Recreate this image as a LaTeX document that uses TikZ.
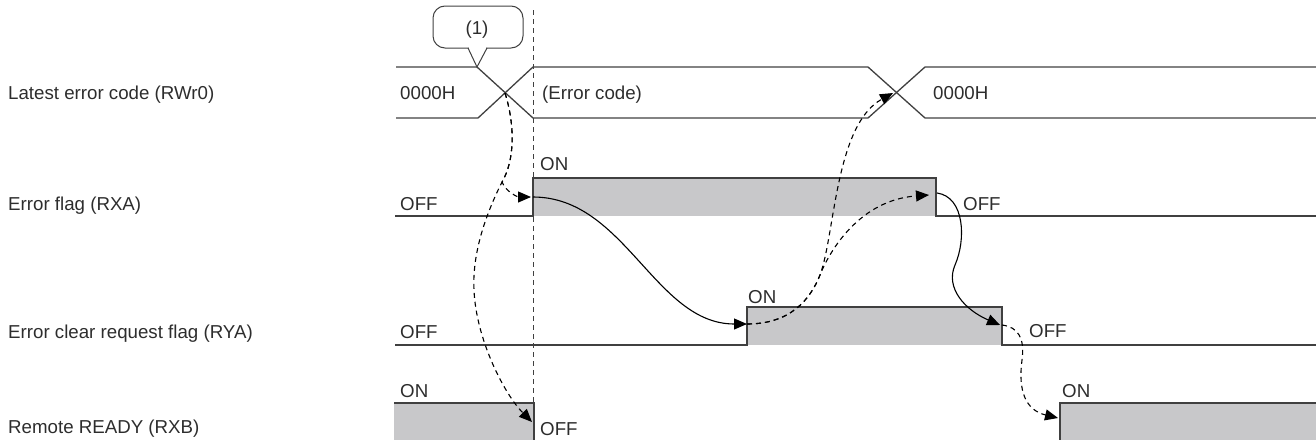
\documentclass[tikz,border=0pt]{standalone}
\usepackage{fontspec}
\setmainfont{Liberation Sans}
\usetikzlibrary{arrows.meta}
\definecolor{sig}{RGB}{64,64,64}
\definecolor{txt}{RGB}{45,45,45}
\definecolor{fillg}{RGB}{200,200,202}
\begin{document}
\begin{tikzpicture}[x=1pt,y=-1pt,
  lbl/.style={anchor=west,inner sep=0pt,text height=13.4pt,text depth=0pt,font=\fontsize{18.7}{22}\selectfont,text=txt},
  sigline/.style={draw=sig,line width=1.3pt},
  conn/.style={line width=1.1pt,draw=black,-{Triangle[length=13pt,width=11pt]}},
  dconn/.style={conn,dash pattern=on 5pt off 4pt},
  vguide/.style={draw=sig,line width=1pt,dash pattern=on 5pt off 4pt}]
\useasboundingbox (0,0) rectangle (1316,439);
\clip (0,0) rectangle (1316,439);
% labels
\node[lbl] (l1) at (8,93) {Latest error code (RWr0)};
\node[lbl] (l2) at (8,204) {Error flag (RXA)};
\node[lbl] (l3) at (8,332) {Error clear request flag (RYA)};
\node[lbl] (l4) at (8,427) {Remote READY (RXB)};
% fills
\fill[fillg] (533,178) rectangle (936,216);
\fill[fillg] (747,307) rectangle (1002,345);
\fill[fillg] (394,403) rectangle (534,445);
\fill[fillg] (1060,403) rectangle (1316,445);
% row 1
\draw[sigline] (396,67) -- (477,67) -- (533,118) -- (868,118) -- (925,67) -- (1317,67);
\draw[sigline] (396,118) -- (478,118) -- (533,67) -- (868,67) -- (925,118) -- (1317,118);
% row 2
\draw[sigline] (395,216) -- (533,216) -- (533,178) -- (936,178) -- (936,216) -- (1317,216);
% row 3
\draw[sigline] (395,345) -- (747,345) -- (747,307) -- (1002,307) -- (1002,345) -- (1317,345);
% row 4
\draw[sigline] (394,403) -- (534,403) -- (534,445);
\draw[sigline] (1060,445) -- (1060,403) -- (1317,403);
% guide
\draw[vguide] (533.5,10) -- (533.5,445);
% callout
\node[draw=sig,line width=1pt,rounded corners=12pt,minimum width=90pt,minimum height=42pt,inner sep=0pt] (call) at (478,27) {};
\fill[white] (469,46) rectangle (486,50);
\draw[draw=sig,line width=1pt,line join=miter] (468,48) -- (477,67) -- (487,48);
\node[lbl,anchor=center] (c1) at (477,28) {(1)};
% row texts
\node[lbl] (t1a) at (400,93) {0000H};
\node[lbl] (t1b) at (542,93) {(Error code)};
\node[lbl] (t1c) at (933,93) {0000H};
\node[lbl] (t2a) at (400,204) {OFF};
\node[lbl] (t2b) at (540,163.5) {ON};
\node[lbl] (t2c) at (963,203.5) {OFF};
\node[lbl] (t3a) at (400,332) {OFF};
\node[lbl] (t3b) at (748,297) {ON};
\node[lbl] (t3c) at (1029,331) {OFF};
\node[lbl] (t4a) at (400,391) {ON};
\node[lbl] (t4b) at (540,429) {OFF};
\node[lbl] (t4c) at (1062,391) {ON};
% connector points
\coordinate (x1) at (505,93);
\coordinate (x2) at (893,93);
\coordinate (e2r) at (533,197);
\coordinate (e2f) at (937,193);
\coordinate (e2ft) at (929,195);
\coordinate (e3r) at (747,324);
\coordinate (e3f) at (1000,325);
\coordinate (e3fs) at (1002,325);
\coordinate (e4f) at (532,422);
\coordinate (e4r) at (1058,418);
% connectors
\draw[dconn] (x1) .. controls (515,125) and (515,160) .. (502,182)
  .. controls (488,210) and (472,250) .. (474,290)
  .. controls (476,340) and (505,395) .. (e4f);
\draw[dconn] (x1) .. controls (515,125) and (515,160) .. (502,182)
  .. controls (506,192) and (518,197) .. (531,197);
\draw[conn] (e2r) .. controls (625,197) and (655,324) .. (e3r);
\draw[dconn] (e3r) .. controls (790,324) and (810,300) .. (820,275)
  .. controls (835,235) and (835,125) .. (x2);
\draw[dconn] (e3r) .. controls (790,324) and (810,300) .. (820,275)
  .. controls (830,250) and (860,200) .. (e2ft);
\draw[conn] (e2f) .. controls (965,197) and (966,240) .. (955,265)
  .. controls (945,288) and (965,310) .. (e3f);
\draw[dconn] (e3fs) .. controls (1018,327) and (1025,338) .. (1022,360)
  .. controls (1018,390) and (1025,410) .. (e4r);
\end{tikzpicture}
\end{document}
